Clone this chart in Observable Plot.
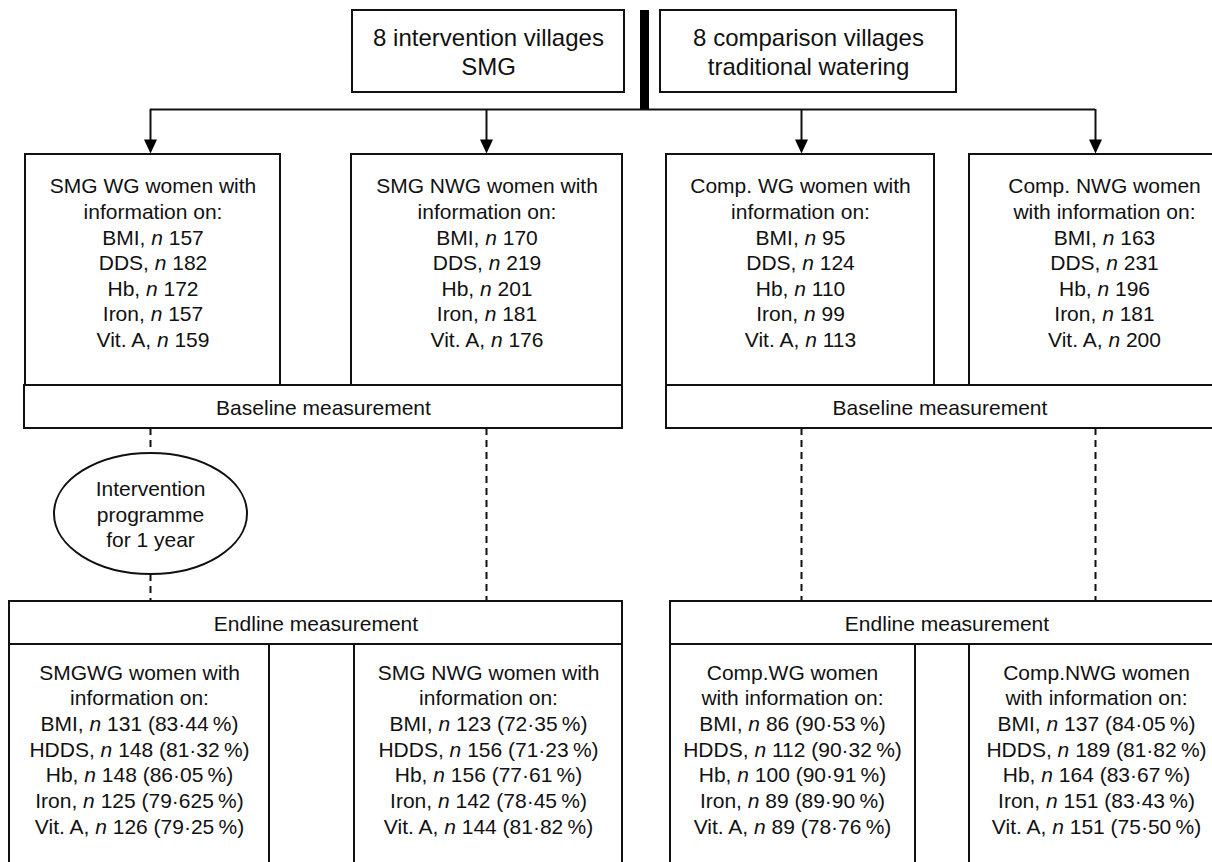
<!DOCTYPE html>
<html>
<head>
<meta charset="utf-8">
<script src="https://cdn.jsdelivr.net/npm/d3@7"></script>
<script src="https://cdn.jsdelivr.net/npm/@observablehq/plot@0.6"></script>
<style>
  html, body { margin: 0; padding: 0; background: #fff; overflow: hidden; }
  #chart { width: 1212px; height: 862px; overflow: hidden; }
</style>
</head>
<body>
<div id="chart"></div>
<script>
// ---------------- data ----------------
const armLabels = ["8 intervention villages\nSMG", "8 comparison villages\ntraditional watering"];
const baselineTitles = ["SMG WG women with\ninformation on:", "SMG NWG women with\ninformation on:", "Comp. WG women with\ninformation on:", "Comp. NWG women\nwith information on:"];
const endlineTitles = ["SMGWG women with\ninformation on:", "SMG NWG women with\ninformation on:", "Comp.WG women\nwith information on:", "Comp.NWG women\nwith information on:"];
const baselineIndicators = ["BMI", "DDS", "Hb", "Iron", "Vit. A"];
const endlineIndicators = ["BMI", "HDDS", "Hb", "Iron", "Vit. A"];
const smgWgBaselineN = [157, 182, 172, 157, 159];
const smgNwgBaselineN = [170, 219, 201, 181, 176];
const compWgBaselineN = [95, 124, 110, 99, 113];
const compNwgBaselineN = [163, 231, 196, 181, 200];
const smgWgEndlineN = [131, 148, 148, 125, 126];
const smgNwgEndlineN = [123, 156, 156, 142, 144];
const compWgEndlineN = [86, 112, 100, 89, 89];
const compNwgEndlineN = [137, 189, 164, 151, 151];
const smgWgEndlinePct = ["83·44", "81·32", "86·05", "79·625", "79·25"];
const smgNwgEndlinePct = ["72·35", "71·23", "77·61", "78·45", "81·82"];
const compWgEndlinePct = ["90·53", "90·32", "90·91", "89·90", "78·76"];
const compNwgEndlinePct = ["84·05", "81·82", "83·67", "83·43", "75·50"];
const stageLabels = ["Baseline measurement", "Endline measurement"];
const interventionLabel = "Intervention\nprogramme\nfor 1 year";

// ---------------- layout (pixel space of the scales) ----------------
const W = 1212, H = 862;
const topBoxes = [{x1: 352, x2: 624, y1: 10, y2: 92, cx: 488}, {x1: 660, x2: 956, y1: 10, y2: 92, cx: 808}];
const divider = [{x1: 640, x2: 649, y1: 10, y2: 109}];
const branchY = 109, arrowTipY = 153;
const colX = [150, 486, 801, 1095];
const baseBoxes = [{x1: 25, x2: 280, cx: 152.5}, {x1: 351, x2: 622, cx: 486.5}, {x1: 666, x2: 934, cx: 800}, {x1: 969, x2: 1239, cx: 1104}].map(d => ({...d, y1: 154, y2: 385}));
const baseBars = [{x1: 24, x2: 622}, {x1: 666, x2: 1213}].map(d => ({...d, y1: 385, y2: 428}));
const endBars = [{x1: 9, x2: 622}, {x1: 670, x2: 1223}].map(d => ({...d, y1: 601, y2: 644}));
const endBoxes = [{x1: 9, x2: 269, cx: 139}, {x1: 354, x2: 622, cx: 488}, {x1: 670, x2: 915, cx: 792}, {x1: 969, x2: 1223, cx: 1096}].map(d => ({...d, y1: 644, y2: 890}));
const dashes = [{x: 150, y1: 428, y2: 453}, {x: 150, y1: 574, y2: 601}, {x: 486, y1: 428, y2: 601}, {x: 801, y1: 428, y2: 601}, {x: 1095, y1: 428, y2: 601}];
const ellipse = [{x: 150, y: 513}];
const baseTextY = 261.5, endTextY = 748;

// ---------------- derived tables ----------------
const baselineN = [smgWgBaselineN, smgNwgBaselineN, compWgBaselineN, compNwgBaselineN];
const endlineN = [smgWgEndlineN, smgNwgEndlineN, compWgEndlineN, compNwgEndlineN];
const endlinePct = [smgWgEndlinePct, smgNwgEndlinePct, compWgEndlinePct, compNwgEndlinePct];

const baseTexts = baseBoxes.map((b, g) => ({
  x: b.cx, y: baseTextY,
  text: baselineTitles[g] + "\n" + baselineIndicators.map((ind, i) => `${ind}, n ${baselineN[g][i]}`).join("\n")
}));
const endTexts = endBoxes.map((b, g) => ({
  x: b.cx, y: endTextY,
  text: endlineTitles[g] + "\n" + endlineIndicators.map((ind, i) => `${ind}, n ${endlineN[g][i]} (${endlinePct[g][i]}\u202F%)`).join("\n")
}));
const stageTexts = [
  ...baseBars.map(b => ({x: (b.x1 + b.x2) / 2, y: (b.y1 + b.y2) / 2, text: stageLabels[0]})),
  ...endBars.map(b => ({x: (b.x1 + b.x2) / 2, y: (b.y1 + b.y2) / 2, text: stageLabels[1]}))
];
const armTexts = topBoxes.map((b, i) => ({x: b.cx, y: (b.y1 + b.y2) / 2, text: armLabels[i]}));

// custom symbols
const downTriangle = {draw(ctx) { ctx.moveTo(-6.5, -14); ctx.lineTo(6.5, -14); ctx.lineTo(0, 0); ctx.closePath(); }};
const ellipseSymbol = {draw(ctx) {
  const rx = 96.5, ry = 60.5, k = 0.5522847;
  ctx.moveTo(rx, 0);
  ctx.bezierCurveTo(rx, k * ry, k * rx, ry, 0, ry);
  ctx.bezierCurveTo(-k * rx, ry, -rx, k * ry, -rx, 0);
  ctx.bezierCurveTo(-rx, -k * ry, -k * rx, -ry, 0, -ry);
  ctx.bezierCurveTo(k * rx, -ry, rx, -k * ry, rx, 0);
  ctx.closePath();
}};

const INK = "#111";
const boxStyle = {x1: "x1", x2: "x2", y1: "y1", y2: "y2", fill: "white", stroke: INK, strokeWidth: 2};
const textStyle = {x: "x", y: "y", text: "text", fontSize: 21, lineHeight: 1.22, textAnchor: "middle", lineAnchor: "middle", fill: "#111"};

const chart = Plot.plot({
  width: W, height: H,
  margin: 0,
  x: {domain: [0, W], range: [0, W], axis: null},
  y: {domain: [0, H], range: [0, H], axis: null},
  style: {fontFamily: "'Liberation Sans', Arial, Helvetica, sans-serif", background: "white", overflow: "hidden"},
  marks: [
    // connectors
    Plot.ruleY([{y: branchY, x1: colX[0], x2: colX[3]}], {y: "y", x1: "x1", x2: "x2", stroke: INK, strokeWidth: 2}),
    Plot.ruleX(colX.map(x => ({x, y1: branchY, y2: arrowTipY - 10})), {x: "x", y1: "y1", y2: "y2", stroke: INK, strokeWidth: 2}),
    Plot.dot(colX.map(x => ({x, y: arrowTipY})), {x: "x", y: "y", symbol: downTriangle, fill: "#000", stroke: "none"}),
    Plot.ruleX(dashes, {x: "x", y1: "y1", y2: "y2", stroke: INK, strokeWidth: 2, strokeDasharray: "7,5"}),
    // top boxes and divider
    Plot.rect(topBoxes, boxStyle),
    Plot.rect(divider, {x1: "x1", x2: "x2", y1: "y1", y2: "y2", fill: "#000"}),
    // baseline
    Plot.rect(baseBoxes, boxStyle),
    Plot.rect(baseBars, boxStyle),
    // intervention ellipse
    Plot.dot(ellipse, {x: "x", y: "y", symbol: ellipseSymbol, fill: "white", stroke: INK, strokeWidth: 2}),
    // endline
    Plot.rect(endBars, boxStyle),
    Plot.rect(endBoxes, boxStyle),
    // texts
    Plot.text(armTexts, {...textStyle, fontSize: 24, lineHeight: 1.18}),
    Plot.text(baseTexts, textStyle),
    Plot.text(endTexts, {...textStyle, lineHeight: 1.225}),
    Plot.text(stageTexts, textStyle),
    Plot.text([{x: ellipse[0].x, y: ellipse[0].y, text: interventionLabel}], textStyle)
  ]
});

document.getElementById("chart").appendChild(chart);

// italicise the statistical "n"
const walker = document.createTreeWalker(chart, NodeFilter.SHOW_TEXT);
const nodes = [];
while (walker.nextNode()) nodes.push(walker.currentNode);
const NS = "http://www.w3.org/2000/svg";
for (const node of nodes) {
  const m = node.nodeValue.match(/^(.*?,\s+)n(\s.*)$/);
  if (!m) continue;
  const parent = node.parentNode;
  const it = document.createElementNS(NS, "tspan");
  it.setAttribute("font-style", "italic");
  it.textContent = "n";
  parent.insertBefore(document.createTextNode(m[1]), node);
  parent.insertBefore(it, node);
  parent.insertBefore(document.createTextNode(m[2]), node);
  parent.removeChild(node);
}
</script>
</body>
</html>
